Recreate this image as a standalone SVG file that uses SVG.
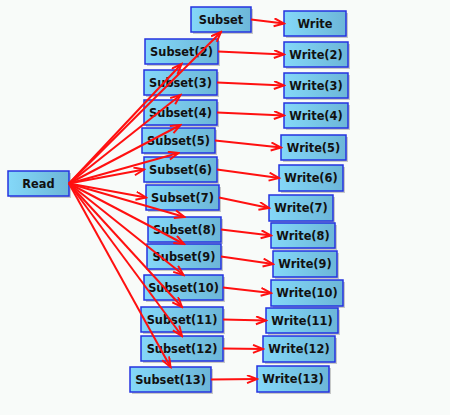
<svg xmlns="http://www.w3.org/2000/svg" width="450" height="415" viewBox="0 0 450 415">
<style>
.box{fill:url(#g);stroke:#2433e0;stroke-width:1.5}
.sh{fill:#000;opacity:0.2}
.t{font-family:"DejaVu Sans",sans-serif;font-weight:bold;font-size:11.4px;fill:#111;text-anchor:middle}
.e{stroke:#ff1010;stroke-width:2;fill:none;marker-end:url(#a)}
</style>
<defs>
<linearGradient id="g" x1="0" y1="0" x2="1" y2="0">
<stop offset="0" stop-color="#84d8f8"/>
<stop offset="1" stop-color="#6cb6d8"/>
</linearGradient>
<marker id="a" markerUnits="userSpaceOnUse" markerWidth="13" markerHeight="10" refX="11" refY="4.5" orient="auto">
<path d="M1,0.5 L11,4.5 L1,8.5" fill="none" stroke="#ff1010" stroke-width="2"/>
</marker>
</defs>
<rect width="450" height="415" fill="#f8fbf9"/>
<g id="nodes">
<g id="read"><rect class="sh" x="10" y="173" width="61" height="25"/><rect class="box" x="8" y="171" width="61" height="25"/><text class="t" x="38.5" y="187.5">Read</text></g>
<g id="s1"><rect class="sh" x="193" y="9" width="60" height="25"/><rect class="box" x="191" y="7" width="60" height="25"/><text class="t" x="221" y="23.5">Subset</text></g>
<g id="s2"><rect class="sh" x="147" y="41" width="73" height="25"/><rect class="box" x="145" y="39" width="73" height="25"/><text class="t" x="181.5" y="55.5">Subset(2)</text></g>
<g id="s3"><rect class="sh" x="146" y="72" width="73" height="25"/><rect class="box" x="144" y="70" width="73" height="25"/><text class="t" x="180.5" y="86.5">Subset(3)</text></g>
<g id="s4"><rect class="sh" x="146" y="102" width="73" height="25"/><rect class="box" x="144" y="100" width="73" height="25"/><text class="t" x="180.5" y="116.5">Subset(4)</text></g>
<g id="s5"><rect class="sh" x="144" y="130" width="73" height="25"/><rect class="box" x="142" y="128" width="73" height="25"/><text class="t" x="178.5" y="144.5">Subset(5)</text></g>
<g id="s6"><rect class="sh" x="146" y="159" width="73" height="25"/><rect class="box" x="144" y="157" width="73" height="25"/><text class="t" x="180.5" y="173.5">Subset(6)</text></g>
<g id="s7"><rect class="sh" x="148" y="187" width="73" height="25"/><rect class="box" x="146" y="185" width="73" height="25"/><text class="t" x="182.5" y="201.5">Subset(7)</text></g>
<g id="s8"><rect class="sh" x="150" y="219" width="73" height="25"/><rect class="box" x="148" y="217" width="73" height="25"/><text class="t" x="184.5" y="233.5">Subset(8)</text></g>
<g id="s9"><rect class="sh" x="149" y="246" width="74" height="25"/><rect class="box" x="147" y="244" width="74" height="25"/><text class="t" x="184" y="260.5">Subset(9)</text></g>
<g id="s10"><rect class="sh" x="146" y="277" width="79" height="25"/><rect class="box" x="144" y="275" width="79" height="25"/><text class="t" x="183.5" y="291.5">Subset(10)</text></g>
<g id="s11"><rect class="sh" x="143" y="309" width="82" height="25"/><rect class="box" x="141" y="307" width="82" height="25"/><text class="t" x="182" y="323.5">Subset(11)</text></g>
<g id="s12"><rect class="sh" x="143" y="338" width="82" height="25"/><rect class="box" x="141" y="336" width="82" height="25"/><text class="t" x="182" y="352.5">Subset(12)</text></g>
<g id="s13"><rect class="sh" x="132" y="369" width="81" height="25"/><rect class="box" x="130" y="367" width="81" height="25"/><text class="t" x="170.5" y="383.5">Subset(13)</text></g>
<g id="w1"><rect class="sh" x="286" y="13" width="62" height="25"/><rect class="box" x="284" y="11" width="62" height="25"/><text class="t" x="315" y="27.5">Write</text></g>
<g id="w2"><rect class="sh" x="286" y="44" width="64" height="25"/><rect class="box" x="284" y="42" width="64" height="25"/><text class="t" x="316" y="58.5">Write(2)</text></g>
<g id="w3"><rect class="sh" x="286" y="75" width="64" height="25"/><rect class="box" x="284" y="73" width="64" height="25"/><text class="t" x="316" y="89.5">Write(3)</text></g>
<g id="w4"><rect class="sh" x="286" y="105" width="64" height="25"/><rect class="box" x="284" y="103" width="64" height="25"/><text class="t" x="316" y="119.5">Write(4)</text></g>
<g id="w5"><rect class="sh" x="283" y="137" width="65" height="25"/><rect class="box" x="281" y="135" width="65" height="25"/><text class="t" x="313.5" y="151.5">Write(5)</text></g>
<g id="w6"><rect class="sh" x="281" y="167" width="64" height="26"/><rect class="box" x="279" y="165" width="64" height="26"/><text class="t" x="311" y="182">Write(6)</text></g>
<g id="w7"><rect class="sh" x="271" y="197" width="64" height="26"/><rect class="box" x="269" y="195" width="64" height="26"/><text class="t" x="301" y="212">Write(7)</text></g>
<g id="w8"><rect class="sh" x="273" y="225" width="64" height="25"/><rect class="box" x="271" y="223" width="64" height="25"/><text class="t" x="303" y="239.5">Write(8)</text></g>
<g id="w9"><rect class="sh" x="275" y="253" width="64" height="26"/><rect class="box" x="273" y="251" width="64" height="26"/><text class="t" x="305" y="268">Write(9)</text></g>
<g id="w10"><rect class="sh" x="273" y="282" width="72" height="26"/><rect class="box" x="271" y="280" width="72" height="26"/><text class="t" x="307" y="297">Write(10)</text></g>
<g id="w11"><rect class="sh" x="268" y="310" width="72" height="25"/><rect class="box" x="266" y="308" width="72" height="25"/><text class="t" x="302" y="324.5">Write(11)</text></g>
<g id="w12"><rect class="sh" x="265" y="338" width="72" height="26"/><rect class="box" x="263" y="336" width="72" height="26"/><text class="t" x="299" y="353">Write(12)</text></g>
<g id="w13"><rect class="sh" x="259" y="368" width="72" height="26"/><rect class="box" x="257" y="366" width="72" height="26"/><text class="t" x="293" y="383">Write(13)</text></g>
</g>
<g id="connectors">
<line class="e" x1="69" y1="183.5" x2="221" y2="32"/>
<line class="e" x1="69" y1="183.5" x2="181.5" y2="64"/>
<line class="e" x1="69" y1="183.5" x2="180.5" y2="95"/>
<line class="e" x1="69" y1="183.5" x2="180.5" y2="125"/>
<line class="e" x1="69" y1="183.5" x2="178.5" y2="153"/>
<line class="e" x1="69" y1="183.5" x2="144" y2="169.5"/>
<line class="e" x1="69" y1="183.5" x2="146" y2="197.5"/>
<line class="e" x1="69" y1="183.5" x2="184.5" y2="217"/>
<line class="e" x1="69" y1="183.5" x2="184" y2="244"/>
<line class="e" x1="69" y1="183.5" x2="183.5" y2="275"/>
<line class="e" x1="69" y1="183.5" x2="182" y2="307"/>
<line class="e" x1="69" y1="183.5" x2="182" y2="336"/>
<line class="e" x1="69" y1="183.5" x2="170.5" y2="367"/>
<line class="e" x1="251" y1="19.5" x2="284" y2="23.5"/>
<line class="e" x1="218" y1="51.5" x2="284" y2="54.5"/>
<line class="e" x1="217" y1="82.5" x2="284" y2="85.5"/>
<line class="e" x1="217" y1="112.5" x2="284" y2="115.5"/>
<line class="e" x1="215" y1="140.5" x2="281" y2="147.5"/>
<line class="e" x1="217" y1="169.5" x2="279" y2="178"/>
<line class="e" x1="219" y1="197.5" x2="269" y2="208"/>
<line class="e" x1="221" y1="229.5" x2="271" y2="235.5"/>
<line class="e" x1="221" y1="256.5" x2="273" y2="264"/>
<line class="e" x1="223" y1="287.5" x2="271" y2="293"/>
<line class="e" x1="223" y1="319.5" x2="266" y2="320.5"/>
<line class="e" x1="223" y1="348.5" x2="263" y2="349"/>
<line class="e" x1="211" y1="379.5" x2="257" y2="379"/>
</g>
</svg>
